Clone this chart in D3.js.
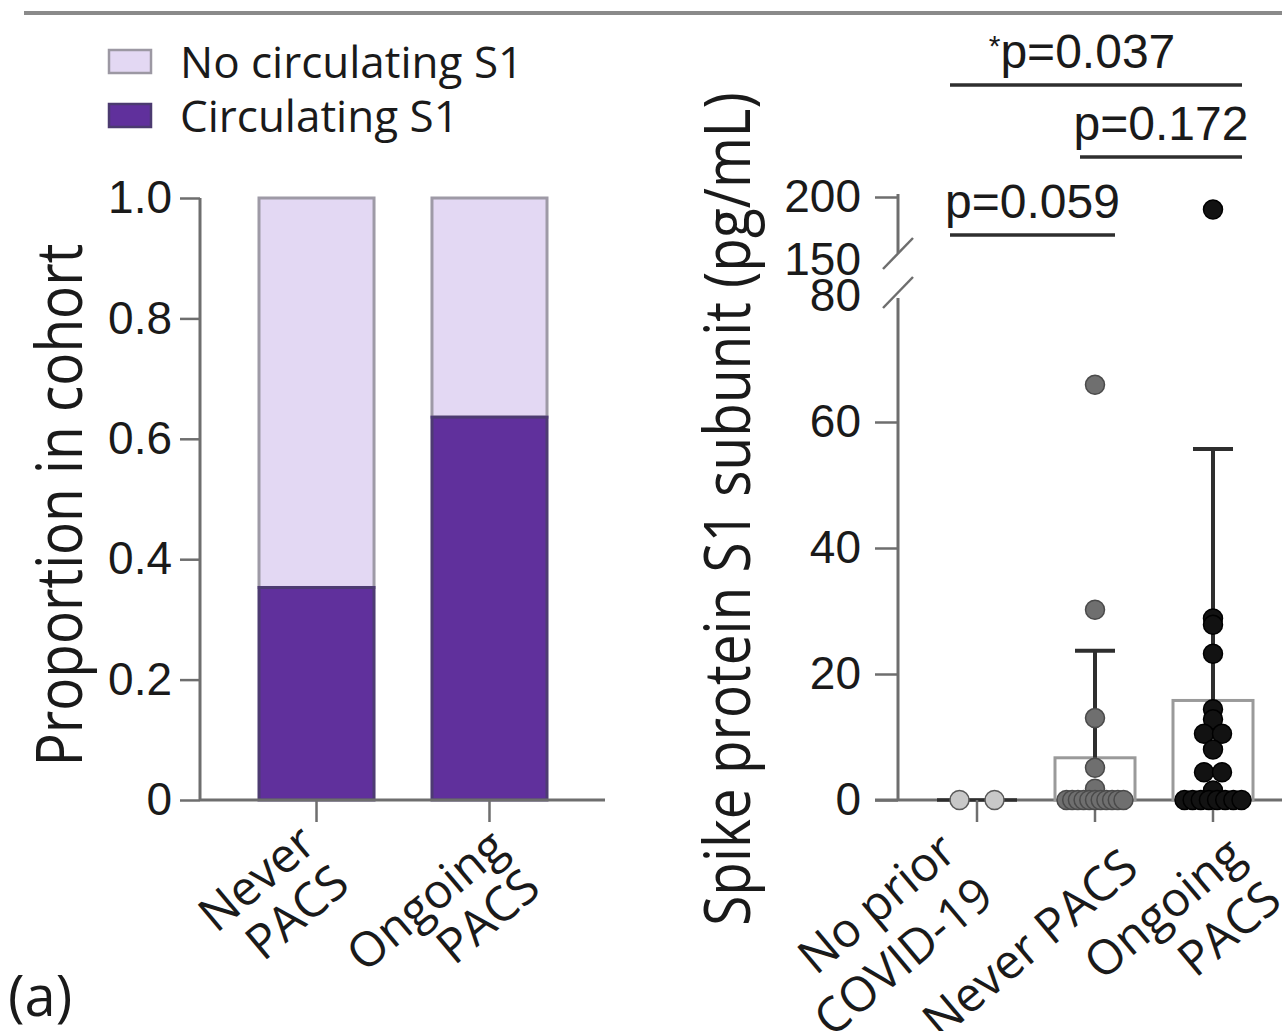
<!DOCTYPE html>
<html>
<head>
<meta charset="utf-8">
<script src="https://cdn.jsdelivr.net/npm/d3@7"></script>
<style>
  body { margin: 0; background: #fff; }
  text { fill: #1a1a1a; }
</style>
</head>
<body>
<svg id="fig" width="1282" height="1031"></svg>
<script>
// ---- Left panel: share of each cohort with circulating S1 ----
const cohortGroups = ["Never PACS", "Ongoing PACS"];
const cohortLabelLines = [["Never", "PACS"], ["Ongoing", "PACS"]];
const circulatingShare = [0.353, 0.636];
const proportionTicks = [0, 0.2, 0.4, 0.6, 0.8, 1.0];
const proportionTickLabels = ["0", "0.2", "0.4", "0.6", "0.8", "1.0"];
const legendLabels = ["No circulating S1", "Circulating S1"];

// ---- Right panel: S1 concentration per participant ----
const s1Groups = ["No prior COVID-19", "Never PACS", "Ongoing PACS"];
const s1LabelLines = [["No prior", "COVID-19"], ["Never PACS"], ["Ongoing", "PACS"]];
const noPriorValues = [0, 0];
const neverPacsValues = [65.9, 30.2, 13.0, 5.1, 1.8, 0, 0, 0, 0, 0, 0, 0, 0, 0, 0, 0];
const ongoingPacsValues = [190, 28.8, 27.8, 23.2, 14.4, 12.8, 10.5, 10.5, 8.0, 4.4, 4.4, 1.5, 0, 0, 0, 0, 0, 0, 0, 0];
const groupMeans = [0, 6.7, 15.8];
const groupSD = [0, 17.0, 39.9];
const lowerTicks = [0, 20, 40, 60, 80];
const upperTicks = [150, 200];
const comparisonFrom = [0, 1, 0];
const comparisonTo = [2, 2, 1];
const comparisonLabels = ["p=0.037", "p=0.172", "p=0.059"];
const comparisonStar = [true, false, false];

const svg = d3.select("#fig");
const HUMANIST = "'Open Sans', 'Noto Sans', sans-serif";
const ARIAL = "'Liberation Sans', Arial, sans-serif";
const AXIS = "#6e6e6e";
const lavender = "#e3d8f3";
const purple = "#60309c";
const LABEL_ANGLE = -40;
const LABEL_SIZE = 48;

// header rule
svg.append("line").attr("x1", 24).attr("x2", 1282).attr("y1", 13).attr("y2", 13)
  .attr("stroke", "#8a8a8a").attr("stroke-width", 4);

// ---------- legend ----------
const legend = svg.append("g");
legendLabels.forEach((lab, i) => {
  const y = 50 + i * 54;
  legend.append("rect").attr("x", 109).attr("y", y).attr("width", 42).attr("height", 23)
    .attr("fill", i === 0 ? lavender : purple)
    .attr("stroke", i === 0 ? "#9c98a3" : "#4b3a70").attr("stroke-width", 2.5);
  legend.append("text").attr("x", 180).attr("y", y + 28)
    .attr("font-family", HUMANIST).attr("font-size", 44).text(lab);
});

// rotated, right-aligned category label; anchor = end of the first line's baseline
function categoryLabel(parent, lines, ax, ay, leading) {
  const t = parent.append("text")
    .attr("transform", `translate(${ax},${ay}) rotate(${LABEL_ANGLE})`)
    .attr("font-family", HUMANIST).attr("font-size", LABEL_SIZE).attr("text-anchor", "end");
  lines.forEach((ln, j) => t.append("tspan").attr("x", 0).attr("y", j * leading).text(ln));
}

// ---------- left chart ----------
const yProp = d3.scaleLinear().domain([0, 1]).range([800, 198]);
const xCohort = d3.scaleBand().domain(cohortGroups).range([259, 547]).paddingInner(0.335).paddingOuter(0);
// label anchor offsets from each tick (x shift, baseline y)
const cohortLabelAnchor = [[2, 848], [20, 852]];

const left = svg.append("g");
cohortGroups.forEach((g, i) => {
  const x = xCohort(g), w = xCohort.bandwidth();
  left.append("rect").attr("x", x).attr("y", yProp(1)).attr("width", w)
    .attr("height", yProp(circulatingShare[i]) - yProp(1))
    .attr("fill", lavender).attr("stroke", "#9e9aa6").attr("stroke-width", 3);
  left.append("rect").attr("x", x).attr("y", yProp(circulatingShare[i])).attr("width", w)
    .attr("height", yProp(0) - yProp(circulatingShare[i]))
    .attr("fill", purple).attr("stroke", "#4d3b72").attr("stroke-width", 3);
});

const yPropAxis = left.append("g").attr("transform", "translate(200,0)")
  .call(d3.axisLeft(yProp).tickValues(proportionTicks)
    .tickFormat((d, i) => proportionTickLabels[i]).tickSize(20).tickPadding(8));
yPropAxis.select(".domain").attr("stroke", AXIS).attr("stroke-width", 3).attr("d", `M0,${yProp(1)}V${yProp(0)}`);
yPropAxis.selectAll(".tick line").attr("stroke", AXIS).attr("stroke-width", 2.5);
yPropAxis.selectAll(".tick text").attr("font-family", ARIAL).attr("font-size", 46).attr("fill", "#2a2a2a");

left.append("line").attr("x1", 200).attr("x2", 605).attr("y1", 800).attr("y2", 800)
  .attr("stroke", AXIS).attr("stroke-width", 3);
cohortGroups.forEach((g, i) => {
  const cx = xCohort(g) + xCohort.bandwidth() / 2;
  left.append("line").attr("x1", cx).attr("x2", cx).attr("y1", 800).attr("y2", 822)
    .attr("stroke", AXIS).attr("stroke-width", 2.5);
  const [dx, by] = cohortLabelAnchor[i];
  categoryLabel(left, cohortLabelLines[i], cx + dx, by, 52);
});

left.append("text").attr("transform", "translate(82,505) scale(1.15,1) rotate(-90)")
  .attr("font-family", HUMANIST).attr("font-size", 55).attr("text-anchor", "middle")
  .text("Proportion in cohort");

svg.append("text").attr("x", 8).attr("y", 1016).attr("font-family", HUMANIST)
  .attr("font-size", 56).text("(a)");

// ---------- right chart ----------
const AX = 898;
const yLow = d3.scaleLinear().domain([0, 80]).range([800, 296]);
const yHigh = d3.scaleLinear().domain([150, 200]).range([260, 197]);
const yVal = v => (v > 80 ? yHigh(v) : yLow(v));
const xS1 = d3.scaleBand().domain(s1Groups).range([937, 1253]).paddingInner(0.322).paddingOuter(0);
const s1LabelAnchor = [[-18, 856], [46, 872], [34, 860]];
const tieStep = [35, 18, 18];
const right = svg.append("g");

// axis segments
const lowAxis = right.append("g").attr("transform", `translate(${AX},0)`)
  .call(d3.axisLeft(yLow).tickValues(lowerTicks).tickSize(23).tickPadding(14));
lowAxis.select(".domain").attr("stroke", AXIS).attr("stroke-width", 3).attr("d", `M0,${yLow(80) + 2}V${yLow(0)}`);
lowAxis.selectAll(".tick line").attr("stroke", AXIS).attr("stroke-width", 2.5)
  .attr("x2", d => (d === 80 ? 0 : -23));
lowAxis.selectAll(".tick text").attr("font-family", ARIAL).attr("font-size", 46).attr("fill", "#2a2a2a");

const highAxis = right.append("g").attr("transform", `translate(${AX},0)`)
  .call(d3.axisLeft(yHigh).tickValues(upperTicks).tickSize(23).tickPadding(14));
highAxis.select(".domain").attr("stroke", AXIS).attr("stroke-width", 3).attr("d", `M0,${yHigh(200) - 3}V${yHigh(150) - 7}`);
highAxis.selectAll(".tick line").attr("stroke", AXIS).attr("stroke-width", 2.5)
  .attr("x2", d => (d === 150 ? 0 : -23));
highAxis.selectAll(".tick text").attr("font-family", ARIAL).attr("font-size", 46).attr("fill", "#2a2a2a");

// axis break marks
[yHigh(150) - 6, yLow(80) - 3].forEach(yb => {
  right.append("line").attr("x1", AX - 15).attr("y1", yb + 15).attr("x2", AX + 15).attr("y2", yb - 16)
    .attr("stroke", AXIS).attr("stroke-width", 2.5);
});

right.append("line").attr("x1", 875).attr("x2", 1282).attr("y1", 800).attr("y2", 800)
  .attr("stroke", AXIS).attr("stroke-width", 3);

const s1Values = [noPriorValues, neverPacsValues, ongoingPacsValues];
const dotFill = ["#c8c8c8", "#6f6f6f", "#121212"];
const dotStroke = ["#5a5a5a", "#4a4a4a", "#000"];
const R = 9.5;

s1Groups.forEach((g, i) => {
  const x0 = xS1(g), w = xS1.bandwidth(), cx = x0 + w / 2;
  // mean bar
  if (groupMeans[i] > 0) {
    right.append("rect").attr("x", x0).attr("y", yLow(groupMeans[i])).attr("width", w)
      .attr("height", yLow(0) - yLow(groupMeans[i]))
      .attr("fill", "#fff").attr("stroke", "#9a9a9a").attr("stroke-width", 3);
  } else {
    right.append("line").attr("x1", x0).attr("x2", x0 + w).attr("y1", yLow(0)).attr("y2", yLow(0))
      .attr("stroke", "#2e2e2e").attr("stroke-width", 3.5);
  }
  // SD whisker
  if (groupSD[i] > 0) {
    const top = yLow(groupMeans[i] + groupSD[i]);
    right.append("line").attr("x1", cx).attr("x2", cx).attr("y1", yLow(groupMeans[i])).attr("y2", top)
      .attr("stroke", "#2e2e2e").attr("stroke-width", 4);
    right.append("line").attr("x1", cx - 20).attr("x2", cx + 20).attr("y1", top).attr("y2", top)
      .attr("stroke", "#2e2e2e").attr("stroke-width", 4);
  }
  // tick below axis
  right.append("line").attr("x1", cx).attr("x2", cx).attr("y1", 800).attr("y2", 822)
    .attr("stroke", AXIS).attr("stroke-width", 2.5);

  // points: equal values are spread side by side inside the bar
  const counts = d3.rollup(s1Values[i], v => v.length, d => d);
  const seen = new Map();
  const pts = s1Values[i].map(v => {
    const k = counts.get(v), j = seen.get(v) || 0;
    seen.set(v, j + 1);
    const maxSpan = w - 2 * R - 4;
    const step = k > 1 ? Math.min(tieStep[i], maxSpan / (k - 1)) : 0;
    return { v, x: cx + (j - (k - 1) / 2) * step };
  });
  right.append("g").selectAll("circle").data(pts).join("circle")
    .attr("cx", d => d.x).attr("cy", d => yVal(d.v)).attr("r", R)
    .attr("fill", dotFill[i]).attr("stroke", dotStroke[i]).attr("stroke-width", 1.5);

  const [dx, by] = s1LabelAnchor[i];
  categoryLabel(right, s1LabelLines[i], cx + dx, by, 58);
});

// significance brackets
const bracketY = [85, 157, 235];
comparisonLabels.forEach((lab, i) => {
  const xa = xS1(s1Groups[comparisonFrom[i]]) + xS1.bandwidth() / 2 - 27;
  const xb = xS1(s1Groups[comparisonTo[i]]) + xS1.bandwidth() / 2 + 29;
  const x1 = comparisonFrom[i] === 1 ? xa + 12 : xa;
  const x2 = comparisonTo[i] === 1 ? xb - 9 : xb;
  right.append("line").attr("x1", x1).attr("x2", x2).attr("y1", bracketY[i]).attr("y2", bracketY[i])
    .attr("stroke", "#2e2e2e").attr("stroke-width", 3.5);
  const t = right.append("text").attr("x", (x1 + x2) / 2 - (comparisonStar[i] ? 14 : 0)).attr("y", bracketY[i] - 17)
    .attr("font-family", ARIAL).attr("font-size", 48).attr("text-anchor", "middle").attr("fill", "#2a2a2a");
  if (comparisonStar[i]) t.append("tspan").attr("font-size", 30).attr("dy", -12).text("*");
  t.append("tspan").attr("dy", comparisonStar[i] ? 12 : 0).text(lab);
});

right.append("text").attr("transform", "translate(750,509) scale(1.15,1) rotate(-90)")
  .attr("font-family", HUMANIST).attr("font-size", 55).attr("text-anchor", "middle")
  .text("Spike protein S1 subunit (pg/mL)");
</script>
</body>
</html>
